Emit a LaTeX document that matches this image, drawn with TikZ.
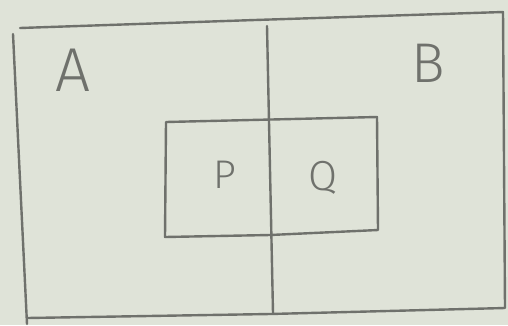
\documentclass[tikz,border=0pt]{standalone}
\usepackage{fontspec}
\setmainfont{Fira Sans}
\newfontfamily\thinfont{Fira Sans}[UprightFont=* Light]
\definecolor{paper}{HTML}{DFE3D8}
\definecolor{pencil}{HTML}{6F716C}
\begin{document}
\begin{tikzpicture}[x=1pt,y=-1pt,
  pen/.style={draw=pencil,line width=2.4pt,line cap=round,line join=round},
  lbl/.style={text=pencil,font=\thinfont\fontsize{#1}{#1}\selectfont},
  lbl/.default=40]
\fill[paper] (0,0) rectangle (508,325);
\useasboundingbox (0,0) rectangle (508,325);
% outer frame
\coordinate (tl) at (20,28);
\coordinate (tr) at (503,12);
\coordinate (br) at (505,308);
\coordinate (bl) at (27,318);
\draw[pen] (tl) -- (255,20) -- (tr) -- (br) -- (270,314) -- (bl);
\draw[pen] (13,34) -- (20,180) -- (27,324);
% divider
\coordinate (dt) at (267,26);
\coordinate (db) at (273,313);
\draw[pen] (dt) -- (db);
% inner rectangle
\coordinate (itl) at (166,122);
\coordinate (itr) at (377,117);
\coordinate (ibr) at (378,230);
\coordinate (ibl) at (165,237);
\draw[pen] (itl) -- (itr) -- (ibr) -- (270,235) -- (ibl) -- cycle;
% labels
\node[lbl=62] (A) at (73,70) {A};
\node[lbl=56] (B) at (428,63) {B};
\node[lbl=40] (P) at (225,175) {P};
\node[lbl=42] (Q) at (323,178) {Q};
\end{tikzpicture}
\end{document}
